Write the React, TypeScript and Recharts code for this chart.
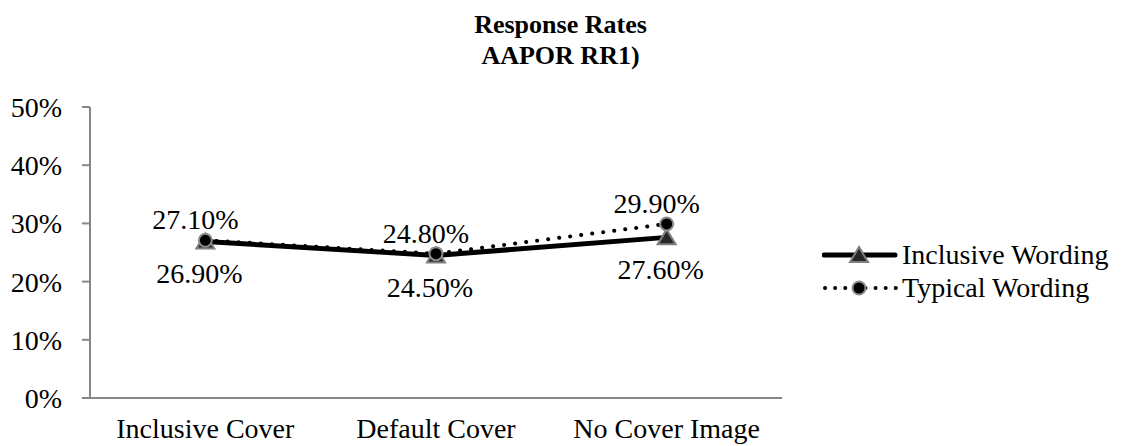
import { LineChart, Line, XAxis, YAxis, LabelList } from "recharts"

const categories = ["Inclusive Cover", "Default Cover", "No Cover Image"]
const inclusiveWording = [26.9, 24.5, 27.6]
const typicalWording = [27.1, 24.8, 29.9]
const yTicks = [0, 10, 20, 30, 40, 50]
const titleLines = ["Response Rates", "AAPOR RR1)"]
const seriesNames = ["Inclusive Wording", "Typical Wording"]

const FONT = '"Liberation Serif", "Times New Roman", serif'
const AXIS = "#868686"

const data = categories.map((name, i) => ({
  pos: i + 0.5,
  name,
  inclusive: inclusiveWording[i],
  typical: typicalWording[i],
}))

const fmt = (v: number) => `${v.toFixed(2)}%`

// triangle marker for the solid series
const Triangle = ({ cx, cy }: any) => {
  if (cx == null || cy == null) return null
  return (
    <polygon
      points={`${cx},${cy - 8} ${cx - 9},${cy + 7} ${cx + 9},${cy + 7}`}
      fill="#262626"
      stroke="#7f7f7f"
      strokeWidth={2}
    />
  )
}

const Dot = ({ cx, cy }: any) => {
  if (cx == null || cy == null) return null
  return <circle cx={cx} cy={cy} r={6.5} fill="#000" stroke="#8c8c8c" strokeWidth={2} />
}

const LabelAbove = ({ x, y, value }: any) => (
  <text x={x - 10} y={y - 11} textAnchor="middle" fontSize={28} fontFamily={FONT} fill="#000">
    {fmt(value)}
  </text>
)

const LabelBelow = ({ x, y, value }: any) => (
  <text x={x - 6} y={y + 42} textAnchor="middle" fontSize={28} fontFamily={FONT} fill="#000">
    {fmt(value)}
  </text>
)

function LegendBox() {
  return (
    <div style={{ position: "absolute", left: 822, top: 238, fontFamily: FONT, fontSize: 28 }}>
      {seriesNames.map((name, i) => (
        <div key={name} style={{ display: "flex", alignItems: "center", height: 33 }}>
          <svg width={76} height={22} style={{ marginRight: 4 }}>
            {i === 0 ? (
              <>
                <line x1={2} y1={11} x2={73} y2={11} stroke="#000" strokeWidth={5} strokeLinecap="round" />
                <Triangle cx={37} cy={11} />
              </>
            ) : (
              <>
                <line
                  x1={3}
                  y1={11}
                  x2={74}
                  y2={11}
                  stroke="#000"
                  strokeWidth={4}
                  strokeDasharray="0.1 10"
                  strokeLinecap="round"
                />
                <Dot cx={37} cy={11} />
              </>
            )}
          </svg>
          <span style={{ lineHeight: "33px", whiteSpace: "nowrap" }}>{name}</span>
        </div>
      ))}
    </div>
  )
}

export default function App() {
  return (
    <div style={{ position: "absolute", left: 0, top: 0, width: 1121, height: 446, background: "#fff", fontFamily: FONT }}>
      <div
        style={{
          position: "absolute",
          left: 0,
          top: 9,
          width: 1121,
          textAlign: "center",
          fontWeight: "bold",
          fontSize: 26,
          lineHeight: "31px",
        }}
      >
        {titleLines.map((t) => (
          <div key={t}>{t}</div>
        ))}
      </div>

      <LineChart width={1121} height={446} data={data} margin={{ top: 107, right: 339, bottom: 0, left: 0 }}>
        <XAxis
          xAxisId="frame"
          dataKey="pos"
          type="number"
          domain={[0, 3]}
          ticks={[0, 1, 2, 3]}
          tick={false}
          tickSize={9}
          height={1}
          stroke={AXIS}
          strokeWidth={2}
        />
        <XAxis
          xAxisId="label"
          dataKey="pos"
          type="number"
          domain={[0, 3]}
          ticks={[0.5, 1.5, 2.5]}
          interval={0}
          tickFormatter={(v: number) => categories[Math.floor(v)]}
          axisLine={false}
          tickLine={false}
          tickSize={0}
          tickMargin={19}
          height={47}
          tick={{ fill: "#000", fontSize: 28, fontFamily: FONT }}
        />
        <YAxis
          domain={[0, 50]}
          ticks={yTicks}
          interval={0}
          tickFormatter={(v: number) => `${v}%`}
          width={90}
          tickSize={8}
          tickMargin={20}
          stroke={AXIS}
          strokeWidth={2}
          tick={{ fill: "#000", fontSize: 28, fontFamily: FONT }}
        />

        <Line
          xAxisId="frame"
          dataKey="inclusive"
          name={seriesNames[0]}
          stroke="#000"
          strokeWidth={5}
          dot={<Triangle />}
          activeDot={false}
          isAnimationActive={false}
        >
          <LabelList dataKey="inclusive" content={<LabelBelow />} />
        </Line>
        <Line
          xAxisId="frame"
          dataKey="typical"
          name={seriesNames[1]}
          stroke="#000"
          strokeWidth={4}
          strokeDasharray="0.1 11"
          strokeLinecap="round"
          dot={<Dot />}
          activeDot={false}
          isAnimationActive={false}
        >
          <LabelList dataKey="typical" content={<LabelAbove />} />
        </Line>
      </LineChart>

      <LegendBox />
    </div>
  )
}
